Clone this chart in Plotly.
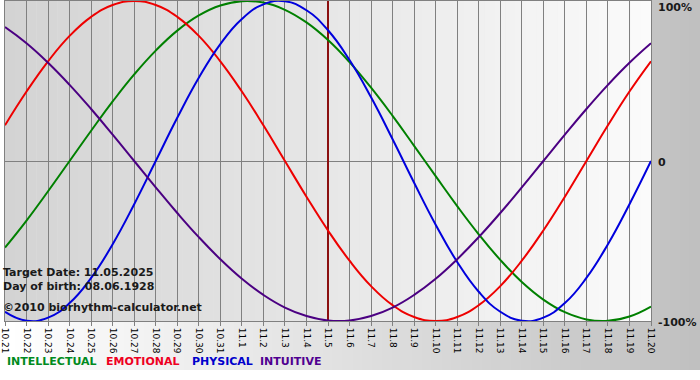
import plotly.graph_objects as go

dates = ["10.21", "10.22", "10.23", "10.24", "10.25", "10.26", "10.27", "10.28", "10.29", "10.30", "10.31",
         "11.1", "11.2", "11.3", "11.4", "11.5", "11.6", "11.7", "11.8", "11.9", "11.10",
         "11.11", "11.12", "11.13", "11.14", "11.15", "11.16", "11.17", "11.18", "11.19", "11.20"]

intellectual = [-0.541, -0.372, -0.189, 0.000, 0.189, 0.372, 0.541, 0.690, 0.815, 0.910, 0.972, 0.999, 0.990,
                0.945, 0.866, 0.756, 0.618, 0.458, 0.282, 0.095, -0.095, -0.282, -0.458, -0.618, -0.756, -0.866,
                -0.945, -0.990, -0.999, -0.972, -0.910]
emotional = [0.223, 0.434, 0.623, 0.782, 0.901, 0.975, 1.000, 0.975, 0.901, 0.782, 0.623, 0.434, 0.223, 0.000,
             -0.223, -0.434, -0.623, -0.782, -0.901, -0.975, -1.000, -0.975, -0.901, -0.782, -0.623, -0.434,
             -0.223, 0.000, 0.223, 0.434, 0.623]
physical = [-0.942, -0.998, -0.979, -0.888, -0.731, -0.520, -0.270, 0.000, 0.270, 0.520, 0.731, 0.888, 0.979,
            0.998, 0.942, 0.817, 0.631, 0.398, 0.136, -0.136, -0.398, -0.631, -0.817, -0.942, -0.998, -0.979,
            -0.888, -0.731, -0.520, -0.270, 0.000]
intuitive = [0.837, 0.736, 0.614, 0.476, 0.325, 0.165, 0.000, -0.165, -0.325, -0.476, -0.614, -0.736, -0.837,
             -0.916, -0.969, -0.997, -0.997, -0.969, -0.916, -0.837, -0.736, -0.614, -0.476, -0.325, -0.165,
             0.000, 0.165, 0.325, 0.476, 0.614, 0.736]

series_names = ["INTELLECTUAL", "EMOTIONAL", "PHYSICAL", "INTUITIVE"]
series_colors = ["#008000", "#ee0000", "#0000dd", "#4b0082"]
legend_colors = ["#008a20", "#ee0022", "#0000cc", "#500090"]
target_date = "11.5"
info_lines = ["Target Date: 11.05.2025", "Day of birth: 08.06.1928", "©2010 biorhythm-calculator.net"]
y_labels = ["100%", "0", "-100%"]
y_values = [1, 0, -1]

W, H = 700, 380
L, R, T, B = 0, 49, 1, 59
PW, PH = W - L - R, H - T - B


def px(x):
    return (x - L) / PW


def py(y):
    return (H - B - y) / PH


xs = list(range(len(dates)))
fig = go.Figure()

for name, vals, col in zip(series_names, [intellectual, emotional, physical, intuitive], series_colors):
    fig.add_trace(go.Scatter(x=xs, y=vals, mode="lines", name=name,
                             line=dict(color=col, width=2, shape="spline", smoothing=1.3),
                             showlegend=False, hoverinfo="skip"))

shapes = []
# outer gradient (white -> gray), whole image down to y=370
N = 70
for i in range(N):
    c = round(255 - (255 - 192) * (i + 0.5) / N)
    shapes.append(dict(type="rect", xref="paper", yref="paper",
                       x0=px(i * 10), x1=px(i * 10 + 11), y0=py(370), y1=py(0),
                       fillcolor=f"rgb({c},{c},{c})", line=dict(width=0), layer="below"))
# plot area gradient (gray -> white)
M = 62
n = len(dates) - 1
for i in range(M):
    c = round(211 + (251 - 211) * (i + 0.5) / M)
    shapes.append(dict(type="rect", xref="x", yref="y",
                       x0=n * i / M, x1=n * (i + 1.05) / M, y0=-1, y1=1,
                       fillcolor=f"rgb({c},{c},{c})", line=dict(width=0), layer="below"))
# target date line
ti = dates.index(target_date)
shapes.append(dict(type="line", xref="x", yref="y", x0=ti, x1=ti, y0=-1, y1=1,
                   line=dict(color="#8b1010", width=2), layer="between"))

annotations = []
for txt, yy in zip(info_lines, [272, 286.5, 307]):
    annotations.append(dict(text=f"<b>{txt}</b>", xref="paper", yref="paper", x=px(-4), y=py(yy),
                            xanchor="left", yanchor="middle", showarrow=False,
                            font=dict(family="DejaVu Sans", size=11, color="#1a1a1a")))
for txt, yv, ypix in zip(y_labels, y_values, [7, 162, 322]):
    annotations.append(dict(text=f"<b>{txt}</b>", xref="paper", yref="paper", x=px(656), y=py(ypix),
                            xanchor="left", yanchor="middle", showarrow=False,
                            font=dict(family="DejaVu Sans", size=11, color="#1a1a1a")))
for txt, col, xpix in zip(series_names, legend_colors, [0, 100, 186, 255]):
    annotations.append(dict(text=f"<b>{txt}</b>", xref="paper", yref="paper", x=px(xpix), y=py(361.5),
                            xanchor="left", yanchor="middle", showarrow=False,
                            font=dict(family="DejaVu Sans", size=11, color=col)))

fig.update_layout(
    width=W, height=H,
    margin=dict(l=L, r=R, t=T, b=B, pad=0),
    paper_bgcolor="white", plot_bgcolor="rgba(0,0,0,0)",
    shapes=shapes, annotations=annotations,
    xaxis=dict(range=[0, n], tickmode="array", tickvals=xs, ticktext=dates, tickangle=90,
               ticklabeloverflow="allow",
               showgrid=True, gridcolor="#808080", gridwidth=1,
               showline=True, linecolor="#808080", linewidth=1, mirror=True,
               ticks="outside", ticklen=4, tickcolor="#808080",
               tickfont=dict(family="DejaVu Sans", size=9, color="#000000"),
               zeroline=False, fixedrange=True),
    yaxis=dict(range=[-1, 1], tickvals=[], showgrid=False,
               zeroline=True, zerolinecolor="#808080", zerolinewidth=1,
               showline=True, linecolor="#808080", linewidth=1, mirror=True,
               fixedrange=True),
)

fig.write_html("out.html", config={"displayModeBar": False},
               post_script="document.body.style.margin='0';document.body.style.padding='0';")
